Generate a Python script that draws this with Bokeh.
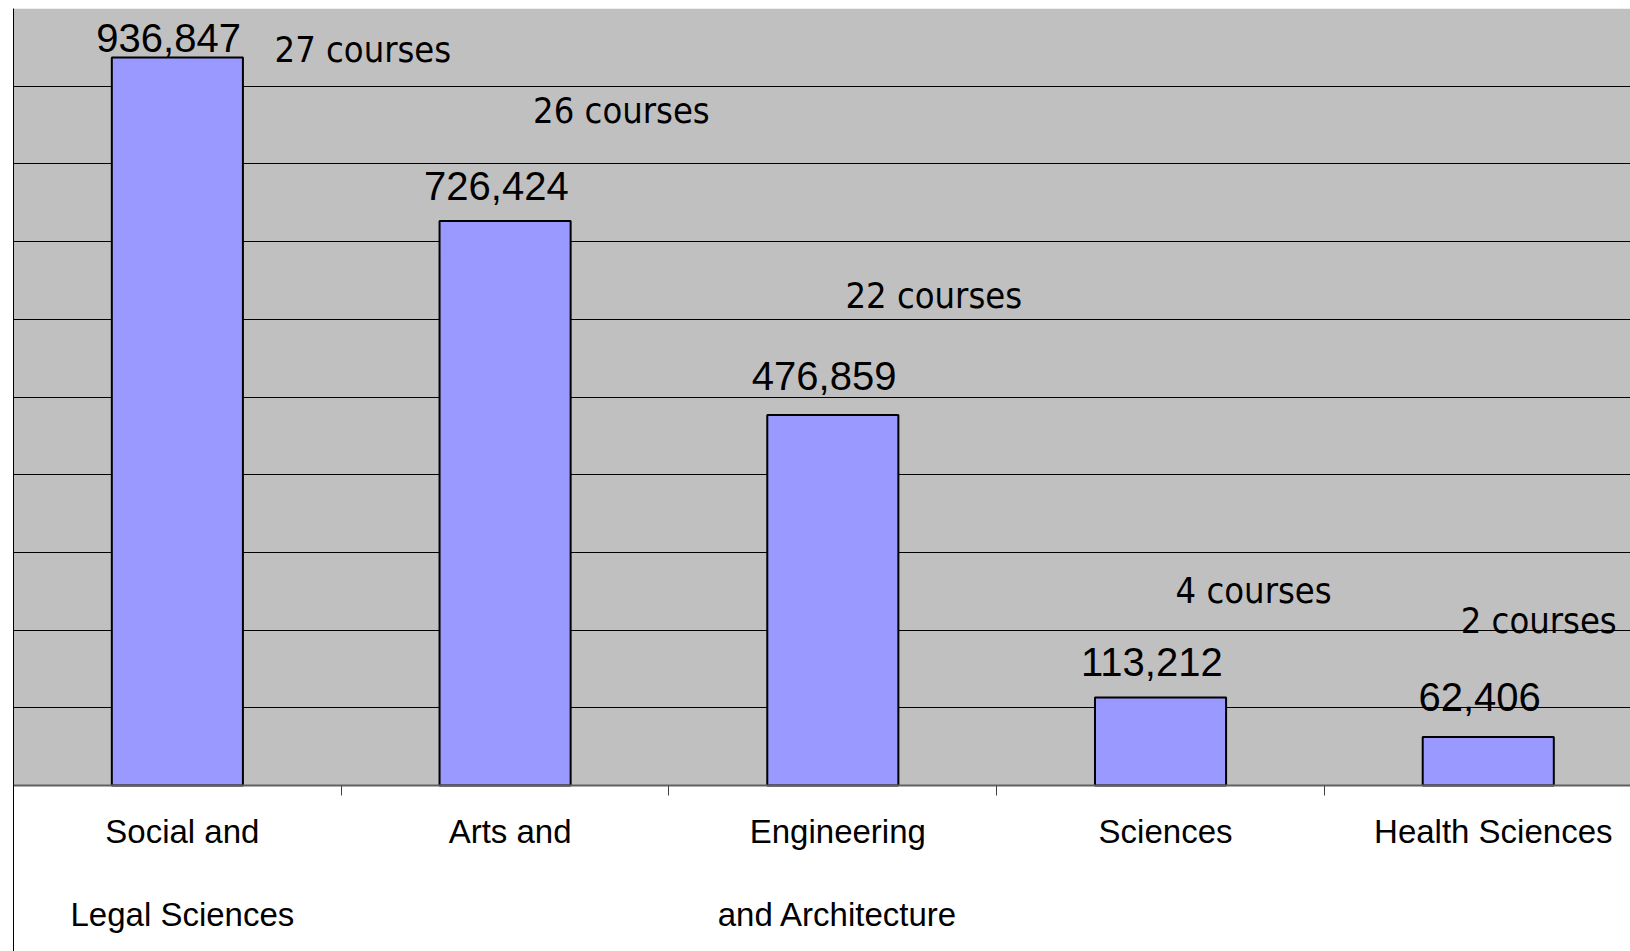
from bokeh.plotting import figure
from bokeh.models import Range1d, FixedTicker, BoxAnnotation, ColumnDataSource
from bokeh.core.properties import value
from bokeh.embed import file_html
from bokeh.resources import INLINE

# ---- data ----
categories = ["Social and\nLegal Sciences", "Arts and", "Engineering\nand Architecture",
              "Sciences", "Health Sciences"]
students = [936847, 726424, 476859, 113212, 62406]
courses = [27, 26, 22, 4, 2]
y_max = 1000000
grid_step = 100000

# placement of the value labels above each bar (pixels from bar top to label centre)
value_label_gap = [20, 35, 39, 36, 40]
# anchors of the free-floating "courses" annotations (shift in categories, height on value axis)
course_label_dx = [0.566, 0.355, 0.308, 0.284, 0.154]
course_label_y = [947600, 869100, 631000, 251400, 212700]

idx = list(range(len(categories)))
src = ColumnDataSource(dict(
    x=idx,
    top=students,
    label=[f"{v:,}" for v in students],
    yoff=[-g for g in value_label_gap],
))
csrc = ColumnDataSource(dict(
    x=[i + d for i, d in zip(idx, course_label_dx)],
    y=course_label_y,
    label=[f"{c} courses" for c in courses],
))

# frame covers the whole chart area; the value axis starts at the category axis line
plot_px, below_px = 777, 166
p = figure(width=1630, height=951, output_backend="svg", toolbar_location=None,
           x_range=Range1d(-0.5, 4.434),
           y_range=Range1d(-y_max * below_px / plot_px, y_max),
           min_border_left=13, min_border_right=0, min_border_top=8, min_border_bottom=0,
           background_fill_color="white", border_fill_color="white",
           outline_line_color=None)

# grey plot area
p.add_layout(BoxAnnotation(bottom=0, top=y_max, fill_color="#C0C0C0", fill_alpha=1,
                           line_color=None, level="image"))

# grid
p.xgrid.visible = False
p.ygrid.ticker = FixedTicker(ticks=list(range(grid_step, y_max + 1, grid_step)))
p.ygrid.grid_line_color = "black"
p.ygrid.grid_line_width = 1

# y axis: only its line (left border of chart)
ya = p.yaxis[0]
ya.ticker = FixedTicker(ticks=[])
ya.axis_line_color = "black"
ya.axis_line_width = 1
ya.major_tick_out = 0
ya.major_tick_in = 0
ya.minor_tick_out = 0
ya.minor_tick_in = 0
ya.major_label_standoff = 0

# x axis, drawn at value 0
label_shift = 0.0153
label_ticks = [i + label_shift for i in idx]
xa = p.xaxis[0]
xa.fixed_location = 0
xa.ticker = FixedTicker(ticks=label_ticks, minor_ticks=[i + 0.5 for i in idx[:-1]])
xa.major_label_overrides = {t: c for t, c in zip(label_ticks, categories)}
xa.major_tick_line_color = None
xa.major_tick_out = 0
xa.major_tick_in = 0
xa.minor_tick_line_color = "#404040"
xa.minor_tick_out = 10
xa.minor_tick_in = 0
xa.axis_line_color = "#606060"
xa.axis_line_width = 2
xa.major_label_text_font = "Liberation Sans"
xa.major_label_text_font_size = "33px"
xa.major_label_text_color = "black"
xa.major_label_text_line_height = 2.25
xa.major_label_standoff = 17

# bars
p.vbar(x="x", top="top", bottom=0, width=0.4, source=src,
       fill_color="#9999FF", line_color="black", line_width=2)

# value labels
p.text(x="x", y="top", text="label", source=src,
       text_font=value("Liberation Sans"), text_font_size="40px", text_color="black",
       text_align="center", text_baseline="middle", x_offset=-8.7, y_offset="yoff")

# course labels
p.text(x="x", y="y", text="label", source=csrc,
       text_font=value("'Liberation Sans Narrow', 'DejaVu Sans Condensed', 'Roboto Condensed', 'Liberation Sans'"),
       text_font_size="36px", text_color="black",
       text_align="center", text_baseline="middle")

open("out.html", "w").write(file_html(p, INLINE))
